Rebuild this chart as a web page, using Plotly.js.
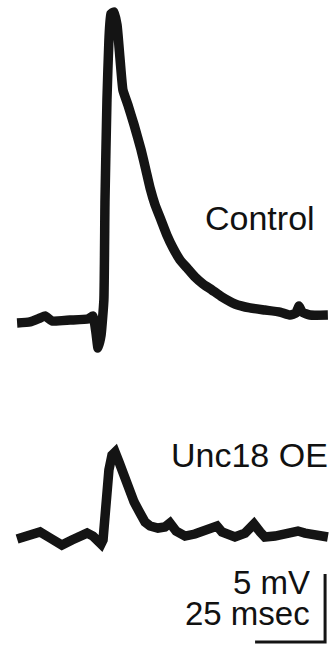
<!DOCTYPE html>
<html>
<head>
<meta charset="utf-8">
<script src="https://cdn.plot.ly/plotly-3.0.1.min.js"></script>
<style>
html,body{margin:0;padding:0;background:#fff;}
#chart{width:332px;height:645px;}
</style>
</head>
<body>
<div id="chart"></div>
<script>
// Time (ms) and membrane potential (mV) relative to baseline
const controlTime = [6.1,10.7,14.3,16.1,18.6,25.0,31.4,33.2,34.3,35.0,36.1,37.1,37.5,38.2,38.9,39.6,40.7,41.8,42.9,43.9,45.7,47.9,50.4,52.1,53.6,55.4,57.5,59.6,61.8,64.3,66.8,69.6,72.5,75.7,79.3,83.9,89.3,94.6,100.0,103.6,105.7,106.8,107.9,110.7,117.1];
const controlMv = [-0.15,-0.07,0.22,0.37,0.0,0.07,0.15,0.37,-0.9,-1.99,-1.03,1.54,8.90,16.25,20.66,22.57,22.72,21.76,19.19,16.99,15.88,14.41,12.57,11.10,9.78,8.53,7.43,6.32,5.37,4.49,3.90,3.24,2.72,2.28,1.76,1.25,0.96,0.81,0.66,0.44,0.59,1.10,0.66,0.44,0.44];

const unc18Time = [6.1,10.0,14.3,17.9,22.1,25.7,28.6,31.1,33.2,35.0,36.1,36.8,37.9,38.9,40.0,41.1,42.5,44.3,46.1,47.9,50.0,51.8,53.6,56.4,58.9,60.7,62.9,66.1,69.6,73.2,75.7,77.5,79.3,83.9,87.5,90.7,92.9,94.6,98.2,101.1,103.6,106.4,108.9,113.2,117.1];
const unc18Mv = [-0.15,0.07,0.37,-0.07,-0.59,-0.22,0.0,0.29,0.07,-0.29,-0.51,-0.22,2.72,4.93,6.03,6.25,5.51,4.34,3.31,2.57,1.76,1.10,0.81,0.66,0.74,1.03,0.44,0.07,0.22,0.44,0.66,0.81,0.37,0.0,0.29,0.96,0.37,0.0,0.07,0.22,0.29,0.44,0.29,0.15,0.0];

const traceLabels = ["Control", "Unc18 OE"];
const scaleMv = 5;      // vertical scale bar (mV)
const scaleMs = 25;     // horizontal scale bar (msec)
const scaleLabels = ["5 mV", "25 msec"];

const barCornerX = 116.1, barCornerY = -7.72;
const ink = "#141414";

const data = [
  {x: controlTime, y: controlMv, xaxis: "x", yaxis: "y", mode: "lines",
   line: {color: ink, width: 9.5, shape: "spline", smoothing: 0.4}, hoverinfo: "skip"},
  {x: unc18Time, y: unc18Mv, xaxis: "x", yaxis: "y2", mode: "lines",
   line: {color: ink, width: 9.5, shape: "linear"}, hoverinfo: "skip"},
  {x: [barCornerX - scaleMs, barCornerX, barCornerX],
   y: [barCornerY, barCornerY, barCornerY + scaleMv],
   xaxis: "x", yaxis: "y2", mode: "lines",
   line: {color: ink, width: 3}, hoverinfo: "skip"}
];

const layout = {
  width: 332, height: 645,
  margin: {l: 0, r: 0, t: 0, b: 0, pad: 0},
  paper_bgcolor: "#ffffff", plot_bgcolor: "#ffffff",
  showlegend: false,
  xaxis: {range: [0, 118.57], visible: false, fixedrange: true},
  yaxis: {range: [-23.82, 23.60], visible: false, fixedrange: true},
  yaxis2: {range: [-7.94, 39.49], visible: false, overlaying: "y", fixedrange: true},
  font: {family: "Liberation Sans, Arial, sans-serif", color: "#111"},
  annotations: [
    {text: traceLabels[0], xref: "paper", yref: "paper", x: 0.955, y: 0.662,
     xanchor: "right", yanchor: "middle", showarrow: false, font: {size: 34}},
    {text: traceLabels[1], xref: "paper", yref: "paper", x: 0.995, y: 0.294,
     xanchor: "right", yanchor: "middle", showarrow: false, font: {size: 34}},
    {text: scaleLabels[0], xref: "paper", yref: "paper", x: 0.94, y: 0.098,
     xanchor: "right", yanchor: "middle", showarrow: false, height: 26, font: {size: 33}},
    {text: scaleLabels[1], xref: "paper", yref: "paper", x: 0.94, y: 0.050,
     xanchor: "right", yanchor: "middle", showarrow: false, height: 26, font: {size: 33}}
  ]
};

Plotly.newPlot("chart", data, layout, {displayModeBar: false, staticPlot: true});
</script>
</body>
</html>
